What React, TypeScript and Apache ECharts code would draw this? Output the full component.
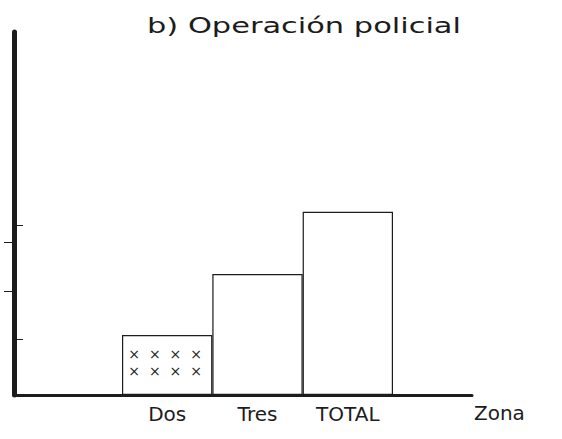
import React, { useEffect, useRef } from "react";
import * as echarts from "echarts";

const categories = ["Dos", "Tres", "TOTAL"];
const values = [16.5, 33.3, 50.5];
const outerTicks = [28.7, 42.1];
const innerTicks = [15.4, 46.8];
const titleText = "b) Operación policial";
const axisName = "Zona";

export default function App() {
  const ref = useRef<HTMLDivElement>(null);
  useEffect(() => {
    const chart = echarts.init(ref.current!, null, { renderer: "svg" });
    const ink = "#1c1c1c";
    const font = "DejaVu Sans";
    chart.setOption({
      animation: false,
      backgroundColor: "#ffffff",
      graphic: [
        {
          type: "text",
          x: 304,
          y: 26,
          scaleX: 1.45,
          style: {
            text: titleText,
            x: 0,
            y: 0,
            align: "center",
            verticalAlign: "middle",
            fontSize: 21,
            fontFamily: font,
            fill: ink,
          },
        },
      ],
      grid: [
        { left: 14, right: 90, top: 32, bottom: 44 },
        { left: 122, right: 169, top: 32, bottom: 44 },
      ],
      xAxis: [
        {
          gridIndex: 0,
          type: "value",
          min: 0,
          max: 1,
          axisLine: { show: true, lineStyle: { color: ink, width: 3 } },
          axisTick: { show: false },
          axisLabel: { show: false },
          splitLine: { show: false },
          name: axisName,
          nameLocation: "end",
          nameGap: 2,
          nameTextStyle: {
            fontSize: 20,
            fontFamily: font,
            color: ink,
            verticalAlign: "top",
            padding: [8, 0, 0, 0],
          },
        },
        {
          gridIndex: 1,
          type: "category",
          data: categories,
          axisLine: { show: false },
          axisTick: { show: false },
          axisLabel: {
            fontSize: 20,
            fontFamily: font,
            color: ink,
            margin: 9,
          },
          splitLine: { show: false },
        },
      ],
      yAxis: [
        {
          gridIndex: 0,
          type: "value",
          position: "left",
          min: 0,
          max: 100,
          axisLine: { show: true, lineStyle: { color: ink, width: 5 } },
          axisTick: {
            show: true,
            customValues: outerTicks,
            length: 10,
            lineStyle: { color: ink, width: 1 },
          },
          axisLabel: { show: false },
          splitLine: { show: false },
        },
        {
          gridIndex: 0,
          type: "value",
          position: "right",
          offset: -458,
          min: 0,
          max: 100,
          axisLine: { show: false },
          axisTick: {
            show: true,
            customValues: innerTicks,
            length: 9,
            lineStyle: { color: ink, width: 1 },
          },
          axisLabel: { show: false },
          splitLine: { show: false },
        },
        {
          gridIndex: 1,
          type: "value",
          min: 0,
          max: 100,
          show: false,
        },
      ],
      series: [
        {
          type: "bar",
          xAxisIndex: 1,
          yAxisIndex: 2,
          barCategoryGap: 0,
          data: values.map((v, i) => ({
            value: v,
            label:
              i === 0
                ? {
                    show: true,
                    position: "inside",
                    offset: [-2, -3],
                    formatter: "×  ×  ×  ×\n×  ×  ×  ×",
                    fontSize: 14,
                    lineHeight: 17,
                    fontFamily: font,
                    color: ink,
                  }
                : { show: false },
          })),
          itemStyle: {
            color: "#ffffff",
            borderColor: ink,
            borderWidth: 1.2,
          },
          z: 1,
        },
      ],
    });
    return () => chart.dispose();
  }, []);
  return (
    <div
      ref={ref}
      style={{ position: "absolute", left: 0, top: 0, width: 562, height: 439 }}
    />
  );
}
